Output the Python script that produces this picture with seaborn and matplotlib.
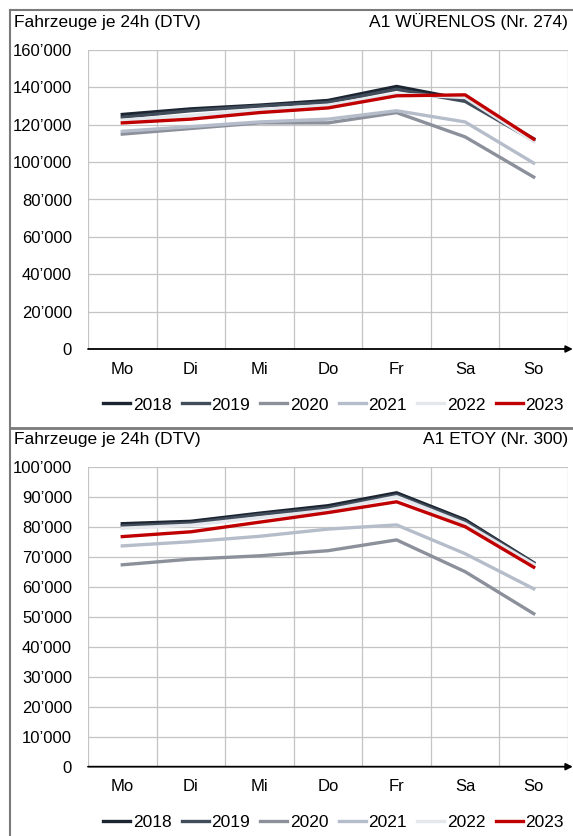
import pandas as pd
import numpy as np
import seaborn as sns
import matplotlib.pyplot as plt
from matplotlib.lines import Line2D
from matplotlib.ticker import FuncFormatter, MultipleLocator, FixedLocator

days = ["Mo", "Di", "Mi", "Do", "Fr", "Sa", "So"]
years = ["2018", "2019", "2020", "2021", "2022", "2023"]

# A1 Würenlos (Nr. 274)
wuerenlos_2018 = [125500, 128500, 130500, 133000, 140500, 133500, 112500]
wuerenlos_2019 = [124000, 127500, 130000, 132000, 139000, 132500, 111500]
wuerenlos_2020 = [115000, 118000, 121000, 121000, 126500, 113500, 92000]
wuerenlos_2021 = [116500, 119000, 121500, 123000, 127500, 121500, 99500]
wuerenlos_2022 = [122500, 125000, 128000, 130500, 136500, 134500, 111000]
wuerenlos_2023 = [121000, 123000, 126500, 129000, 135500, 136000, 112300]

# A1 Etoy (Nr. 300)
etoy_2018 = [81000, 81800, 84500, 87000, 91300, 82300, 68000]
etoy_2019 = [80300, 81200, 84000, 86300, 90600, 81800, 67800]
etoy_2020 = [67300, 69200, 70300, 72000, 75600, 65000, 51000]
etoy_2021 = [73600, 75000, 76800, 79200, 80600, 71000, 59300]
etoy_2022 = [79500, 80500, 83000, 85500, 90000, 81000, 67500]
etoy_2023 = [76700, 78300, 81500, 84700, 88300, 80000, 66500]

colors = {"2018": "#1b2431", "2019": "#414c5b", "2020": "#8b909b",
          "2021": "#b6bdca", "2022": "#e4e7ec", "2023": "#c00000"}

plt.rcParams["font.family"] = ["Liberation Sans", "DejaVu Sans"]


def to_long(series):
    rows = []
    for year, vals in zip(years, series):
        for i, v in enumerate(vals):
            rows.append({"pos": i, "Jahr": year, "DTV": v})
    return pd.DataFrame(rows)


def fmt(v, _):
    if v == 0:
        return "0"
    return f"{int(v):,}".replace(",", "\u2019")


def draw_panel(fig, rect, df, ymax, ystep, station, title_y, legend_y):
    ax = fig.add_axes(rect)
    sns.lineplot(data=df, x="pos", y="DTV", hue="Jahr", hue_order=years,
                 palette=colors, linewidth=2.4, ax=ax, legend=True)
    ax.set_xlim(-0.5, 6.5)
    ax.set_ylim(0, ymax)
    ax.xaxis.set_major_locator(FixedLocator(range(7)))
    ax.set_xticklabels(days)
    ax.xaxis.set_minor_locator(FixedLocator(np.arange(-0.5, 7, 1)))
    ax.yaxis.set_major_locator(MultipleLocator(ystep))
    ax.yaxis.set_major_formatter(FuncFormatter(fmt))
    ax.grid(True, which="minor", axis="x", color="#c4c4c4", lw=0.9)
    ax.grid(True, which="major", axis="y", color="#c4c4c4", lw=0.9)
    ax.set_axisbelow(True)
    ax.tick_params(axis="both", which="both", length=0, labelsize=12)
    ax.tick_params(axis="x", pad=9)
    ax.tick_params(axis="y", pad=11.5)
    ax.set_xlabel("")
    ax.set_ylabel("")
    for s in ["top", "right", "left", "bottom"]:
        ax.spines[s].set_visible(False)
    ax.annotate("", xy=(1.01, 0), xytext=(0, 0), xycoords="axes fraction",
                arrowprops=dict(arrowstyle="-|>", color="black", lw=1.3,
                                mutation_scale=10, shrinkA=0, shrinkB=0))
    handles, labels = ax.get_legend_handles_labels()
    ax.legend_.remove()
    fig.legend(handles, labels, loc="center", bbox_to_anchor=(0.582, legend_y),
               ncol=6, frameon=False, fontsize=12.5, handlelength=1.55,
               handletextpad=0.15, columnspacing=0.6)
    fig.text(14 / 573, title_y, "Fahrzeuge je 24h (DTV)", fontsize=12.5,
             ha="left", va="center")
    fig.text(568 / 573, title_y, station, fontsize=12.5, ha="right", va="center")
    return ax


def main():
    fig = plt.figure(figsize=(5.73, 8.36), dpi=100)

    df_w = to_long([wuerenlos_2018, wuerenlos_2019, wuerenlos_2020,
                    wuerenlos_2021, wuerenlos_2022, wuerenlos_2023])
    df_e = to_long([etoy_2018, etoy_2019, etoy_2020,
                    etoy_2021, etoy_2022, etoy_2023])

    H = 836
    draw_panel(fig, [88 / 573, 1 - 349 / H, 480 / 573, 299 / H], df_w,
               160000, 20000, "A1 WÜRENLOS (Nr. 274)", 1 - 22 / H, 1 - 405 / H)
    draw_panel(fig, [88 / 573, 1 - 766.7 / H, 480 / 573, 300 / H], df_e,
               100000, 10000, "A1 ETOY (Nr. 300)", 1 - 439 / H, 1 - 822 / H)

    # frame lines
    border = "#7a7a7a"
    fig.add_artist(Line2D([10 / 573, 10 / 573], [0, 1 - 10 / H], color=border, lw=1.5))
    fig.add_artist(Line2D([10 / 573, 1], [1 - 10 / H, 1 - 10 / H], color=border, lw=1.5))
    fig.add_artist(Line2D([10 / 573, 1], [1 - 428 / H, 1 - 428 / H], color=border, lw=2))

    fig.savefig("out.png", dpi=100)


if __name__ == "__main__":
    main()
